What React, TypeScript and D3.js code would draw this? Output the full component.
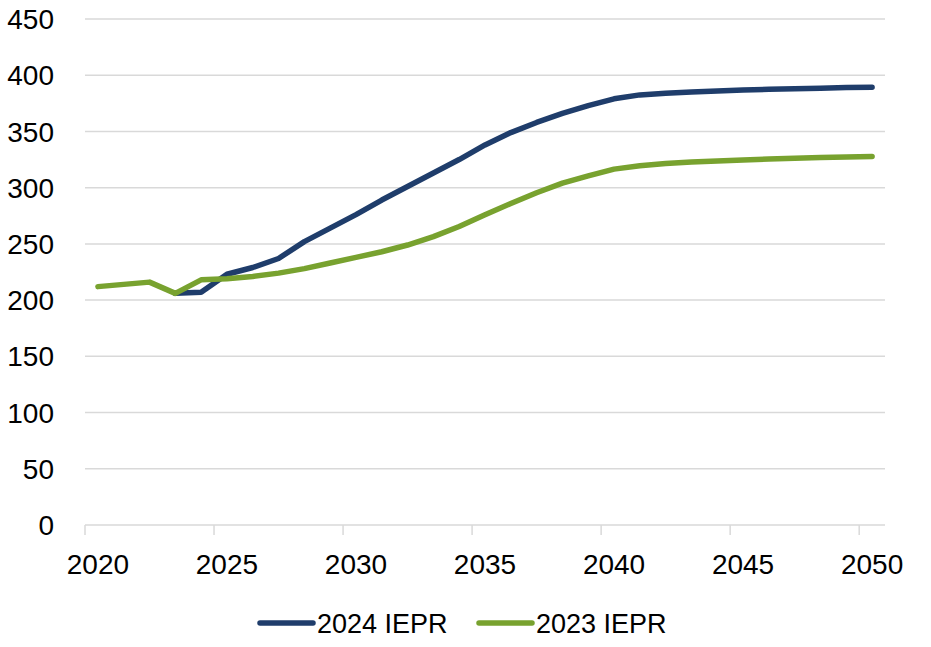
import React, { useEffect, useRef } from "react";
import * as d3 from "d3";

// chart data
const years = d3.range(2020, 2051);
const tickYears = [2020, 2025, 2030, 2035, 2040, 2045, 2050];
const yTicks = [0, 50, 100, 150, 200, 250, 300, 350, 400, 450];

// 2024 IEPR starts in 2023
const iepr2024Years = d3.range(2023, 2051);
const iepr2024 = [
  206, 207, 223, 229, 237, 252, 264, 276, 289, 301, 313, 325, 338, 349, 358,
  366, 373, 379, 382.5, 384, 385, 386, 386.8, 387.5, 388, 388.5, 389, 389.3,
];
const iepr2023 = [
  212, 214, 216, 206, 218, 219, 221, 224, 228, 233, 238, 243, 249, 256.5,
  265.5, 276, 286, 295.5, 304, 310.5, 316.5, 319.5, 321.5, 322.8, 323.8,
  324.7, 325.5, 326.2, 326.8, 327.3, 327.8,
];

const seriesNames = ["2024 IEPR", "2023 IEPR"];
const seriesColors = ["#1f3d6b", "#78a22f"];

const WIDTH = 931;
const HEIGHT = 647;

function LineChart() {
  const svgRef = useRef<SVGSVGElement>(null);

  useEffect(() => {
    const svg = d3.select(svgRef.current);
    svg.selectAll("*").remove();

    const font = "'Liberation Sans', Arial, sans-serif";

    const x = d3.scaleBand<number>().domain(years).range([85, 885]);
    const y = d3.scaleLinear().domain([0, 450]).range([525, 19]);
    const cx = (yr: number) => (x(yr) as number) + x.bandwidth() / 2;

    // gridlines
    svg
      .append("g")
      .selectAll("line")
      .data(yTicks)
      .enter()
      .append("line")
      .attr("x1", 85)
      .attr("x2", 885)
      .attr("y1", (d) => y(d))
      .attr("y2", (d) => y(d))
      .attr("stroke", "#d9d9d9")
      .attr("stroke-width", 1.5);

    // y labels
    svg
      .append("g")
      .selectAll("text")
      .data(yTicks)
      .enter()
      .append("text")
      .attr("x", 54)
      .attr("y", (d) => y(d))
      .attr("dy", "0.36em")
      .attr("text-anchor", "end")
      .style("font-family", font)
      .style("font-size", "28px")
      .attr("fill", "#000")
      .text((d) => d);

    // x tick marks at category boundaries
    svg
      .append("g")
      .selectAll("line")
      .data(tickYears)
      .enter()
      .append("line")
      .attr("x1", (d) => x(d) as number)
      .attr("x2", (d) => x(d) as number)
      .attr("y1", 525)
      .attr("y2", 535)
      .attr("stroke", "#d9d9d9")
      .attr("stroke-width", 1.5);

    // x labels
    svg
      .append("g")
      .selectAll("text")
      .data(tickYears)
      .enter()
      .append("text")
      .attr("x", (d) => cx(d))
      .attr("y", 574)
      .attr("text-anchor", "middle")
      .style("font-family", font)
      .style("font-size", "28px")
      .attr("fill", "#000")
      .text((d) => d);

    const line = d3
      .line<[number, number]>()
      .x((d) => cx(d[0]))
      .y((d) => y(d[1]));

    const data2024: [number, number][] = iepr2024Years.map((yr, i) => [yr, iepr2024[i]]);
    const data2023: [number, number][] = years.map((yr, i) => [yr, iepr2023[i]]);

    // draw 2024 first, then 2023 on top
    [data2024, data2023].forEach((d, i) => {
      svg
        .append("path")
        .datum(d)
        .attr("d", line)
        .attr("fill", "none")
        .attr("stroke", seriesColors[i])
        .attr("stroke-width", 5.5)
        .attr("stroke-linejoin", "round")
        .attr("stroke-linecap", "round");
    });

    // legend
    const legendX = [260, 479];
    const legend = svg
      .append("g")
      .selectAll("g")
      .data(seriesNames)
      .enter()
      .append("g")
      .attr("transform", (_d, i) => "translate(" + legendX[i] + ",623)");

    legend
      .append("line")
      .attr("x1", 0)
      .attr("x2", 53)
      .attr("stroke", (_d, i) => seriesColors[i])
      .attr("stroke-width", 5.5)
      .attr("stroke-linecap", "round");

    legend
      .append("text")
      .attr("x", 57)
      .attr("y", 10)
      .style("font-family", font)
      .style("font-size", "27px")
      .attr("fill", "#000")
      .text((d) => d);
  }, []);

  return (
    <svg
      ref={svgRef}
      width={WIDTH}
      height={HEIGHT}
      style={{ position: "absolute", left: 0, top: 0, background: "#fff" }}
    />
  );
}

export default function App() {
  return <LineChart />;
}
